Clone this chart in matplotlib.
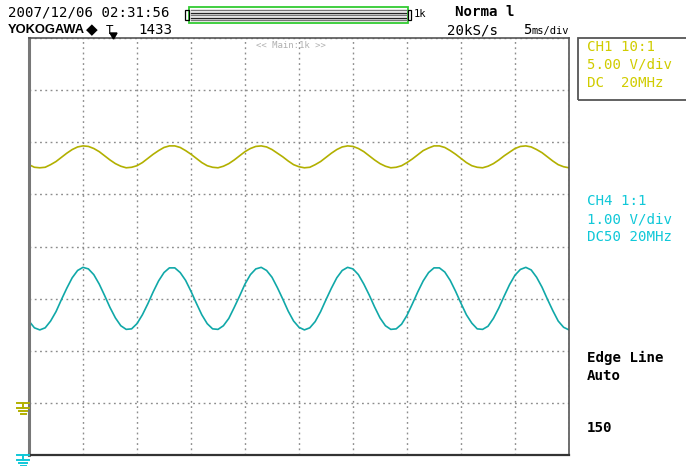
import matplotlib
matplotlib.use("Agg")
import matplotlib.pyplot as plt
from matplotlib.patches import Rectangle
from matplotlib.transforms import blended_transform_factory

W, H = 686, 466
MONO = "DejaVu Sans Mono"
YEL_TRACE, YEL_TEXT = "#b2b000", "#d0cc00"
CYA_TRACE, CYA_TEXT = "#10a8a8", "#10c8d8"
GRID = "#8c8c8c"

# screen readout (time in ms, 5 ms/div; traces in divisions from screen centre)
time_ms = [0.0, 0.5, 1.0, 1.5, 2.0, 2.5, 3.0, 3.5, 4.0, 4.5,
           5.0, 5.5, 6.0, 6.5, 7.0, 7.5, 8.0, 8.5, 9.0, 9.5,
           10.0, 10.5, 11.0, 11.5, 12.0, 12.5, 13.0, 13.5, 14.0, 14.5,
           15.0, 15.5, 16.0, 16.5, 17.0, 17.5, 18.0, 18.5, 19.0, 19.5,
           20.0, 20.5, 21.0, 21.5, 22.0, 22.5, 23.0, 23.5, 24.0, 24.5,
           25.0, 25.5, 26.0, 26.5, 27.0, 27.5, 28.0, 28.5, 29.0, 29.5,
           30.0, 30.5, 31.0, 31.5, 32.0, 32.5, 33.0, 33.5, 34.0, 34.5,
           35.0, 35.5, 36.0, 36.5, 37.0, 37.5, 38.0, 38.5, 39.0, 39.5,
           40.0, 40.5, 41.0, 41.5, 42.0, 42.5, 43.0, 43.5, 44.0, 44.5,
           45.0, 45.5, 46.0, 46.5, 47.0, 47.5, 48.0, 48.5, 49.0, 49.5, 50.0]
ch1_div = [1.57, 1.52, 1.51, 1.52, 1.57, 1.63, 1.71, 1.79, 1.86, 1.91,
           1.93, 1.92, 1.88, 1.82, 1.74, 1.66, 1.59, 1.54, 1.51, 1.52,
           1.55, 1.61, 1.69, 1.77, 1.84, 1.90, 1.93, 1.93, 1.90, 1.84,
           1.77, 1.69, 1.61, 1.55, 1.52, 1.51, 1.54, 1.59, 1.66, 1.74,
           1.82, 1.88, 1.92, 1.93, 1.91, 1.86, 1.79, 1.72, 1.64, 1.57,
           1.53, 1.51, 1.52, 1.57, 1.63, 1.71, 1.79, 1.86, 1.91, 1.93,
           1.92, 1.88, 1.82, 1.74, 1.66, 1.59, 1.54, 1.51, 1.52, 1.55,
           1.61, 1.68, 1.76, 1.84, 1.89, 1.93, 1.93, 1.90, 1.84, 1.77,
           1.69, 1.61, 1.55, 1.52, 1.51, 1.54, 1.59, 1.66, 1.74, 1.81,
           1.88, 1.92, 1.93, 1.91, 1.86, 1.80, 1.72, 1.64, 1.57, 1.53, 1.51]
ch4_div = [-1.43, -1.56, -1.60, -1.56, -1.43, -1.25, -1.02, -0.80, -0.60, -0.46,
           -0.40, -0.43, -0.54, -0.72, -0.94, -1.17, -1.37, -1.52, -1.59, -1.58,
           -1.48, -1.31, -1.10, -0.87, -0.66, -0.50, -0.41, -0.41, -0.50, -0.65,
           -0.86, -1.09, -1.31, -1.48, -1.58, -1.59, -1.52, -1.38, -1.17, -0.95,
           -0.72, -0.54, -0.43, -0.40, -0.46, -0.59, -0.79, -1.01, -1.24, -1.43,
           -1.55, -1.60, -1.56, -1.44, -1.25, -1.02, -0.80, -0.60, -0.46, -0.40,
           -0.43, -0.54, -0.72, -0.93, -1.16, -1.37, -1.52, -1.59, -1.58, -1.49,
           -1.32, -1.10, -0.87, -0.66, -0.50, -0.41, -0.41, -0.49, -0.65, -0.86,
           -1.09, -1.31, -1.47, -1.58, -1.59, -1.53, -1.38, -1.18, -0.95, -0.73,
           -0.55, -0.44, -0.40, -0.45, -0.59, -0.78, -1.01, -1.23, -1.43, -1.55, -1.60]
ch1_ground, ch4_ground = -3, -4
div_x = [0, 5, 10, 15, 20, 25, 30, 35, 40, 45, 50]
div_y = [-4, -3, -2, -1, 0, 1, 2, 3, 4]


def px(x, y):
    return x / W, 1 - y / H


fig = plt.figure(figsize=(W / 100, H / 100), dpi=100)
fig.patch.set_facecolor("white")
ax = fig.add_axes([29 / W, 11 / H, 540 / W, 417 / H])
ax.set_xlim(0, 50)
ax.set_ylim(-4, 4)
ax.set_xticks(div_x)
ax.set_yticks(div_y)
ax.tick_params(length=0, labelbottom=False, labelleft=False)
ax.grid(True, color=GRID, lw=1.0, linestyle=(0, (1.3, 2.5)))
for s in ax.spines.values():
    s.set_color("#555555"); s.set_linewidth(1.2)
ax.spines["left"].set_color("#777777"); ax.spines["left"].set_linewidth(2.2)
ax.spines["bottom"].set_color("#333333"); ax.spines["bottom"].set_linewidth(1.6)

ax.plot(time_ms, ch1_div, color=YEL_TRACE, lw=1.2, solid_joinstyle="round")
ax.plot(time_ms, ch4_div, color=CYA_TRACE, lw=1.2, solid_joinstyle="round")

# ground markers on the left edge
bt = blended_transform_factory(fig.transFigure, ax.transData)
for g, c in ((ch1_ground, YEL_TRACE), (ch4_ground, CYA_TEXT)):
    ax.annotate("", xy=(0, g), xycoords=bt)
    y0 = ax.transData.transform((0, g))[1] / H
    x0 = 23 / W
    for dy, hw in ((0, 6), (-5, 6), (-8, 4), (-11, 2.5)):
        fig.add_artist(plt.Line2D([x0 - hw / W, x0 + hw / W], [y0 + dy / H] * 2,
                                  color=c, lw=1.4))
    fig.add_artist(plt.Line2D([x0, x0], [y0, y0 - 5 / H], color=c, lw=1.4))

ax.text(0.485, 0.983, "<< Main:1k >>", transform=ax.transAxes, ha="center",
        va="center", color="#b0b0b0", fontsize=6.5, family=MONO)

# header
fig.text(*px(8, 12), "2007/12/06 02:31:56", family=MONO, fontsize=10.2,
         va="center", ha="left")
fig.text(*px(8, 30), "YOKOGAWA", family="Liberation Sans", fontweight="bold",
         fontsize=9.3, va="center", ha="left")
fig.text(*px(86, 30), "\u25c6", family="DejaVu Sans", fontsize=11,
         va="center", ha="left")
fig.text(*px(106, 30), "T", family=MONO, fontsize=9, va="center", ha="left")
fig.add_artist(plt.Polygon([px(110, 33), px(117, 33), px(113.5, 39)],
                           closed=True, color="black"))
fig.text(*px(138, 30), "1433", family=MONO, fontsize=10.2, va="center", ha="left")
fig.text(*px(455, 12), "Norma l", family=MONO, fontsize=10.2, fontweight="bold",
         va="center", ha="left")
fig.text(*px(447, 30), "20kS/s", family=MONO, fontsize=10.2, va="center", ha="left")
fig.text(*px(523, 30), "5", family=MONO, fontsize=10.2, va="center", ha="left")
fig.text(*px(531, 31), "ms/div", family=MONO, fontsize=7.5, va="center", ha="left")

# record-length bar
x0, x1, y0, y1 = 189, 408, 7, 23
fig.add_artist(Rectangle(px(x0, y1), (x1 - x0) / W, (y1 - y0) / H,
                         fill=False, ec="#33cc33", lw=1.3))
for yy, cc in ((10, "#777777"), (12.5, "#222222"), (15, "#777777"),
               (17.5, "#222222"), (20, "#777777")):
    fig.add_artist(plt.Line2D([(x0 + 2) / W, (x1 - 2) / W], [1 - yy / H] * 2,
                              color=cc, lw=1.0))
for bx in (185, 408):
    fig.add_artist(Rectangle(px(bx, 20), 3.5 / W, 10 / H, fill=False,
                             ec="black", lw=0.9))
fig.text(*px(414, 14), "1k", family=MONO, fontsize=7.5, va="center", ha="left")

# channel panel
fig.add_artist(Rectangle(px(578, 100), 120 / W, 62 / H, fill=False,
                         ec="#555555", lw=1.3))
for i, t in enumerate(["CH1 10:1", "5.00 V/div", "DC  20MHz"]):
    fig.text(*px(587, 47 + 18 * i), t, family=MONO, fontsize=10.2,
             color=YEL_TEXT, va="center", ha="left")
for i, t in enumerate(["CH4 1:1", "1.00 V/div", "DC50 20MHz"]):
    fig.text(*px(587, 201 + 18 * i), t, family=MONO, fontsize=10.2,
             color=CYA_TEXT, va="center", ha="left")
for t, yy in (("Edge Line", 358), ("Auto", 376), ("150", 428)):
    fig.text(*px(587, yy), t, family=MONO, fontsize=10.2, fontweight="bold",
             va="center", ha="left")

fig.savefig("out.png", dpi=100)
